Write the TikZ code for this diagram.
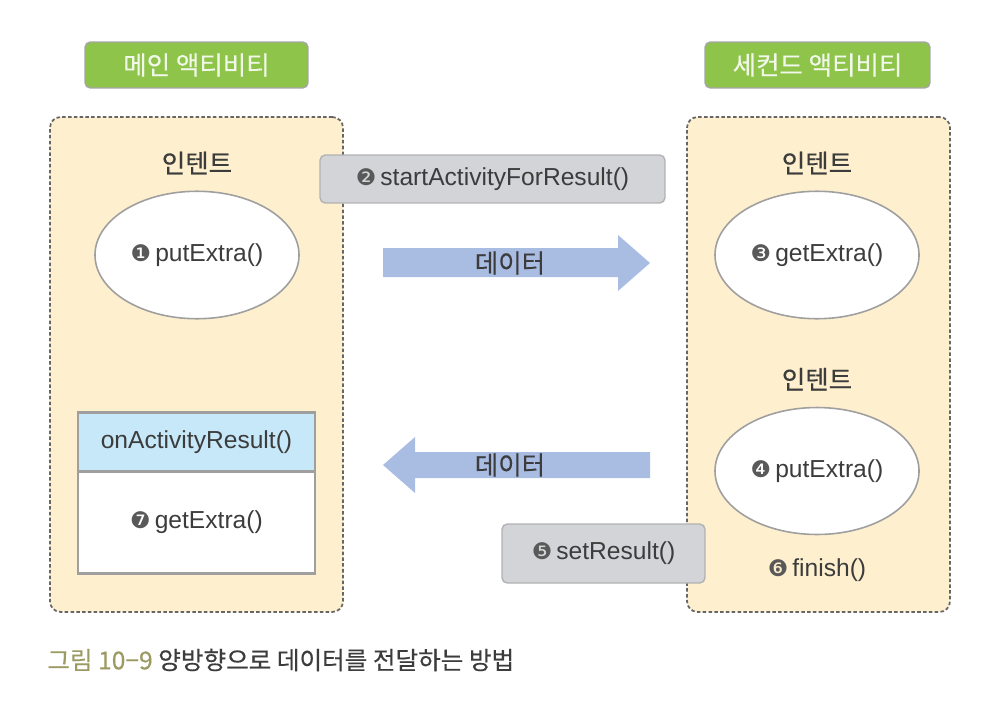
\documentclass[tikz,border=0pt]{standalone}
\usepackage{fontspec}
\setmainfont{Liberation Sans}
\newfontfamily\kr[FakeBold=0.35]{Noto Sans CJK KR}
\newfontfamily\dingf{DejaVu Sans}
\usetikzlibrary{positioning,shapes.geometric}
\definecolor{titlegreen}{HTML}{8DC449}
\definecolor{panelcream}{HTML}{FEF0CE}
\definecolor{callgray}{HTML}{D3D4D8}
\definecolor{arrowblue}{HTML}{A9BDE3}
\definecolor{headblue}{HTML}{C6E8F8}
\definecolor{inkgray}{HTML}{3C3C3C}
\definecolor{capolive}{HTML}{9B9A62}
\newcommand{\mk}[1]{{\dingf\fontsize{13}{13}\selectfont\color{inkgray!85}#1}\,}

\begin{document}
\begin{tikzpicture}[x=0.02cm, y=-0.02cm, font=\fontsize{14}{16}\selectfont, text=inkgray,
  title/.style={draw=gray!70, line width=0.8pt, fill=titlegreen, rounded corners=3pt, text=white!88!titlegreen,
    font=\kr\fontsize{14.5}{16}\selectfont, minimum width=44.6mm, minimum height=9.2mm},
  panel/.style={draw=gray!80!black, line width=1pt, dash pattern=on 2pt off 1.3pt, fill=panelcream,
    rounded corners=6pt, minimum height=99mm},
  intent/.style={font=\kr\fontsize{14.5}{16}\selectfont},
  oval/.style={ellipse, draw=gray!75, line width=0.9pt, fill=white, minimum width=37mm, minimum height=25.5mm},
  call/.style={draw=gray!60, line width=0.8pt, fill=callgray, rounded corners=3pt, minimum height=9.6mm},
  part/.style={draw=gray!75, line width=1.4pt, outer sep=0pt, minimum width=47.4mm},
  data/.style={font=\kr\fontsize{14.5}{16}\selectfont}]
\useasboundingbox (0,0) rectangle (1000,710);
% activity titles and panels
\node[title] (main) at (196.5,65) {메인 액티비티};
\node[title, minimum width=45mm] (second) at (817.5,65) {세컨드 액티비티};
\node[panel, minimum width=58.6mm] (left) at (196.5,364.5) {};
\node[panel, minimum width=52.6mm] (right) at (818.5,364.5) {};
% main activity side
\node[oval] (put1) at (197,255) {\mk{❶}putExtra()};
\node[intent, above=2mm of put1] (int1) {인텐트};
\node[part, fill=headblue, minimum height=11.8mm] (oahead) at (196.5,442) {onActivityResult()};
\node[part, fill=white, minimum height=20.4mm, below=0pt of oahead] (oabody) {\mk{❼}getExtra()};
% second activity side
\node[oval] (get3) at (817,255) {\mk{❸}getExtra()};
\node[intent, above=2mm of get3] (int3) {인텐트};
\node[oval, minimum height=25.4mm] (put4) at (817,471) {\mk{❹}putExtra()};
\node[intent, above=2mm of put4] (int4) {인텐트};
\node[below=3.5mm of put4] (fin) {\mk{❻}finish()};
% calls between the two
\node[call, minimum width=69mm] (start) at (492.5,179) {\mk{❷}startActivityForResult()};
\node[call, minimum width=40.6mm, minimum height=11.8mm] (setres) at (603.5,553.5) {\mk{❺}setResult()};
% data arrows
\fill[arrowblue] (383,248) -- (618,248) -- (618,235) -- (650,263) -- (618,291) -- (618,277) -- (383,277) -- cycle;
\node[data] (fwd) at (510,263) {데이터};
\fill[arrowblue] (650,452) -- (415,452) -- (415,437) -- (383,465) -- (415,493) -- (415,478) -- (650,478) -- cycle;
\node[data] (back) at (510,465) {데이터};
% caption
\node[anchor=west, font=\kr\fontsize{14}{16}\selectfont, inner sep=0pt] (cap) at (47,660)
  {{\color{capolive}그림 10−9} 양방향으로 데이터를 전달하는 방법};
\end{tikzpicture}
\end{document}
